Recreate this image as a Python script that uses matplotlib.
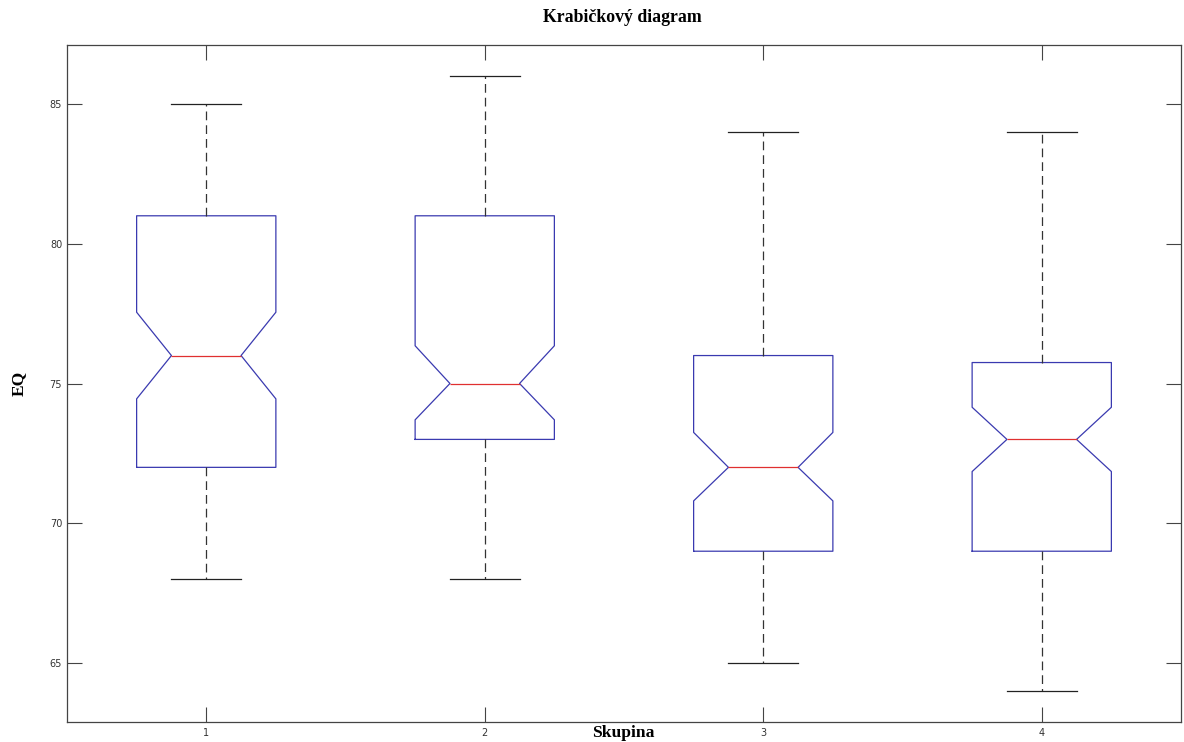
import matplotlib
matplotlib.use("Agg")
import matplotlib.pyplot as plt

# hodnoty
groups = [1, 2, 3, 4]
medians = [76, 75, 72, 73]
q1 = [72, 73, 69, 69]
q3 = [81, 81, 76, 75.75]
whis_lo = [68, 68, 65, 64]
whis_hi = [85, 86, 84, 84]
notch_lo = [74.45, 73.7, 70.8, 71.85]
notch_hi = [77.55, 76.35, 73.25, 74.15]

stats = []
for i in range(len(groups)):
    stats.append(dict(med=medians[i], q1=q1[i], q3=q3[i],
                      whislo=whis_lo[i], whishi=whis_hi[i],
                      cilo=notch_lo[i], cihi=notch_hi[i], fliers=[]))

fig = plt.figure(figsize=(11.84, 7.42), dpi=100)
ax = fig.add_axes([67 / 1184, 1 - 722 / 742, (1181 - 67) / 1184, (722 - 45) / 742])

ax.bxp(stats, positions=groups, widths=0.5, shownotches=True,
       boxprops=dict(color="#3a3ab0", linewidth=0.9),
       medianprops=dict(color="#e03030", linewidth=0.9),
       whiskerprops=dict(color="#333333", linewidth=0.9, linestyle=(0, (7, 4))),
       capprops=dict(color="#222222", linewidth=0.9),
       capwidths=0.25)

ax.set_xlim(0.5, 4.5)
ax.set_ylim(62.89, 87.11)
ax.set_xticks(groups)
ax.set_xticklabels([str(g) for g in groups])
ax.set_yticks([65, 70, 75, 80, 85])

ax.tick_params(direction="in", top=True, right=True, length=11, width=0.8,
               labelsize=7, labelcolor="#333333", color="#444444")
ax.tick_params(axis="x", pad=4)
for s in ax.spines.values():
    s.set_color("#444444")
    s.set_linewidth(0.9)

serif = ["Liberation Serif", "DejaVu Serif"]
fig.text(622 / 1184, 1 - 17 / 742, "Krabičkový diagram",
         ha="center", va="center", fontsize=12.8, fontweight="bold", family=serif)
fig.text(19 / 1184, 1 - 383 / 742, "EQ", rotation=90, ha="center", va="center",
         fontsize=12.5, fontweight="bold", family=serif)
fig.text(623 / 1184, 1 - 733 / 742, "Skupina", ha="center", va="center",
         fontsize=12.6, fontweight="bold", family=serif)

fig.savefig("out.png", dpi=100)
